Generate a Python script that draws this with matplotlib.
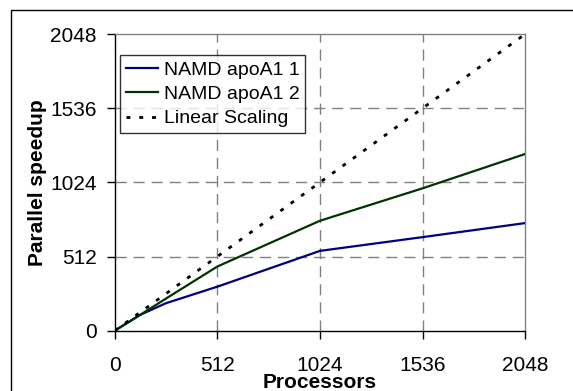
import matplotlib
matplotlib.use("Agg")
import matplotlib.pyplot as plt
from matplotlib.patches import Rectangle

plt.rcParams['font.family'] = ['Liberation Sans', 'DejaVu Sans']

processors = [0, 128, 256, 512, 1024, 1536, 2048]
apoa1_1 = [0, 110, 190, 304, 551, 646, 743]
apoa1_2 = [0, 110, 222, 443, 759, 983, 1220]
linear_x = [0, 2048]
linear_y = [0, 2048]
ticks = [0, 512, 1024, 1536, 2048]

W, H = 573, 391
fig = plt.figure(figsize=(W / 100, H / 100), dpi=100)
ax = fig.add_axes([114.7 / W, (H - 330.7) / H, 410.6 / W, 296.7 / H])

ax.plot(processors, apoa1_1, color='#000080', lw=1.6, label='NAMD apoA1 1', zorder=3)
ax.plot(processors, apoa1_2, color='#003300', lw=1.6, label='NAMD apoA1 2', zorder=3)
ax.plot(linear_x, linear_y, color='black', lw=2.0, linestyle=(0, (1.4, 3.2)),
        label='Linear Scaling', zorder=3)

ax.set_xlim(0, 2048)
ax.set_ylim(0, 2048)
ax.set_xticks(ticks)
ax.set_yticks(ticks)
ax.tick_params(axis='both', direction='out', length=6, width=1, color='black',
               labelsize=15)
ax.tick_params(axis='x', pad=12)
ax.tick_params(axis='y', pad=7)

for v in ticks[1:-1]:
    ax.axhline(v, color='#808080', lw=1, linestyle=(0, (8, 5)), zorder=1)
    ax.axvline(v, color='#808080', lw=1, linestyle=(0, (8, 5)), zorder=1)

ax.spines['left'].set_color('black')
ax.spines['bottom'].set_color('black')
ax.spines['top'].set_color('#808080')
ax.spines['right'].set_color('#808080')
for s in ax.spines.values():
    s.set_linewidth(1)

ax.set_xlabel('Processors', fontsize=15, fontweight='bold', labelpad=-1)
ax.set_ylabel('Parallel speedup', fontsize=15, fontweight='bold', labelpad=2)

leg = ax.legend(loc='upper left', bbox_to_anchor=(0.013, 0.929), borderaxespad=0,
                fontsize=14, frameon=True, fancybox=False, handlelength=1.65,
                handletextpad=0.3, labelspacing=0.35, borderpad=0.3)
leg.get_frame().set_edgecolor('black')
leg.get_frame().set_linewidth(1)

fig.patches.append(Rectangle((11, -20), 600, H - 10 + 20, transform=None,
                             fill=False, edgecolor='black', lw=1))

fig.savefig('out.png', dpi=100)
